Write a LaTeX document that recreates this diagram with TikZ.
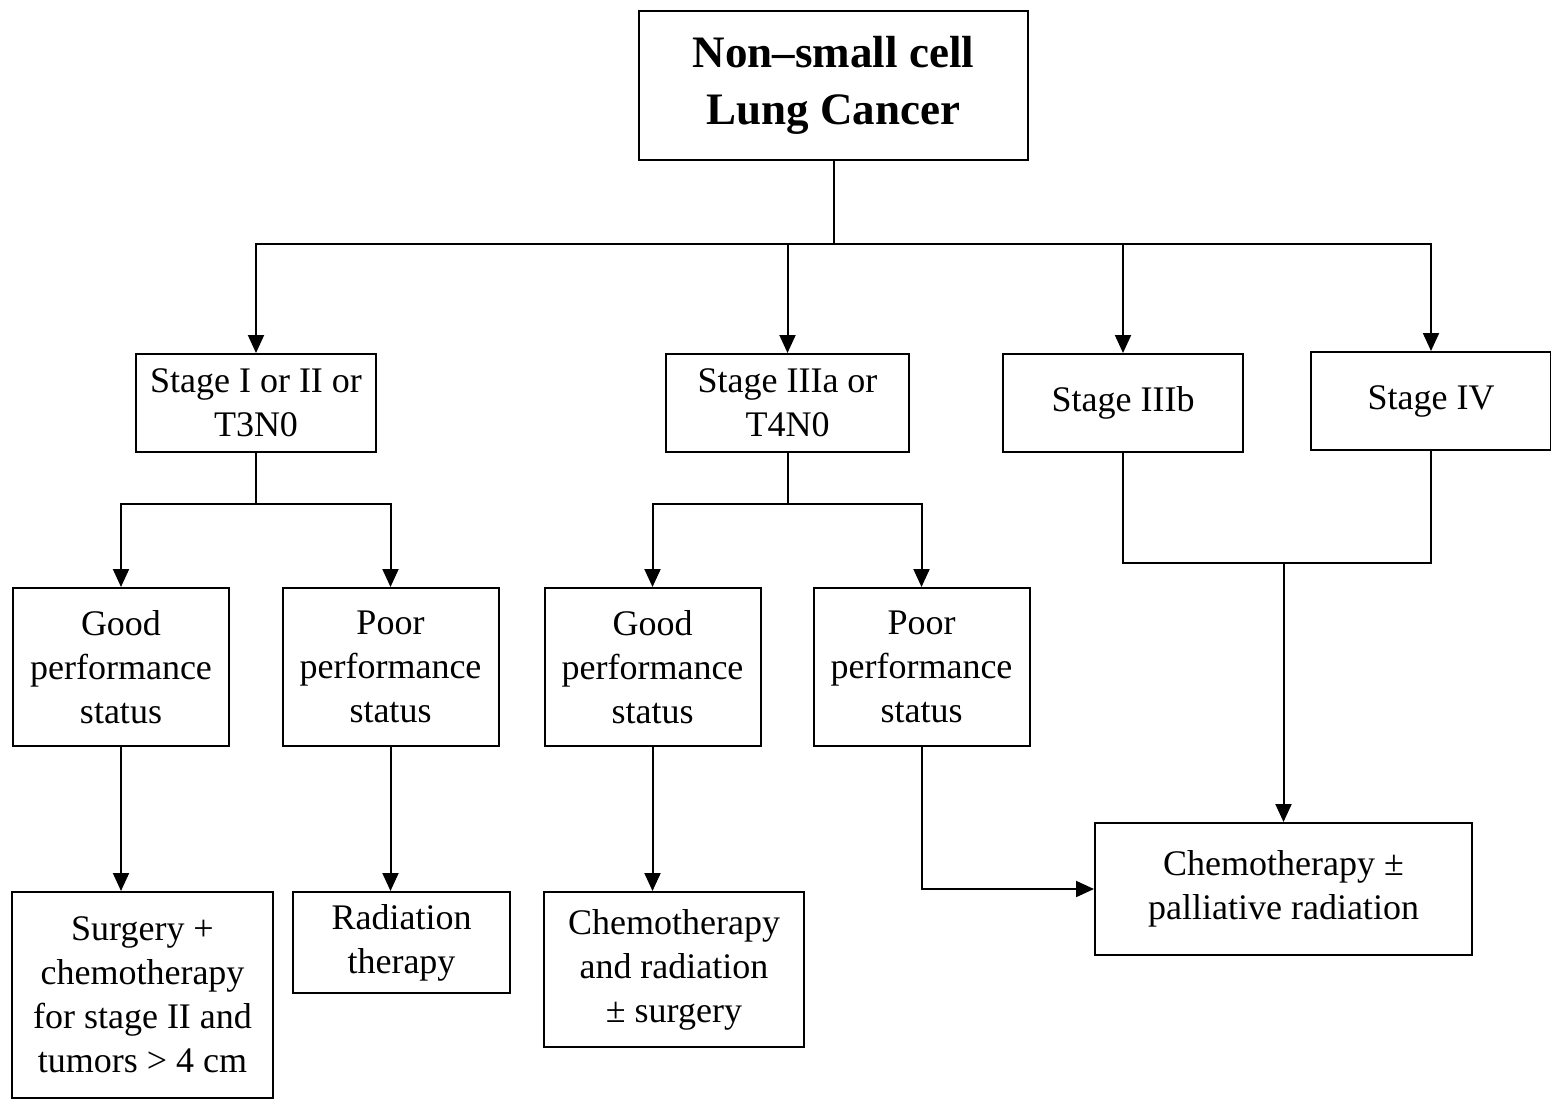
\documentclass[tikz,border=0pt]{standalone}
\usepackage{fontspec}
\setmainfont{Liberation Serif}
\usetikzlibrary{arrows.meta}

\begin{document}
\begin{tikzpicture}[x=0.5pt, y=-0.5pt,
    box/.style={draw, line width=1pt, inner sep=0pt, align=center, font=\fontsize{18}{22}\selectfont},
    arr/.style={-{Triangle[length=9pt, width=8pt]}, line width=1pt},
    ln/.style={line width=1pt}
]
    \useasboundingbox (0,0) rectangle (1551,1098);

    % Top
    \node[box, minimum width=194.5pt, minimum height=74.5pt, font=\bfseries\fontsize{22.5}{28.5}\selectfont] (nsclc) at (833.5, 85.5) {Non--small cell\\Lung Cancer};

    % Stages
    \node[box, minimum width=120pt, minimum height=49pt] (st1) at (256, 403) {Stage I or II or\\T3N0};
    \node[box, minimum width=121.5pt, minimum height=49pt] (st3a) at (787.5, 403) {Stage IIIa or\\T4N0};
    \node[box, minimum width=120pt, minimum height=49pt] (st3b) at (1123, 403) {Stage IIIb};
    \node[box, minimum width=120pt, minimum height=49pt] (st4) at (1431, 401) {Stage IV};

    % Performance status
    \node[box, minimum width=108pt, minimum height=79pt] (good1) at (121, 667) {Good\\performance\\status};
    \node[box, minimum width=108pt, minimum height=79pt] (poor1) at (390.5, 667) {Poor\\performance\\status};
    \node[box, minimum width=108pt, minimum height=79pt] (good2) at (652.5, 667) {Good\\performance\\status};
    \node[box, minimum width=108pt, minimum height=79pt] (poor2) at (921.5, 667) {Poor\\performance\\status};

    % Treatments
    \node[box, minimum width=130.5pt, minimum height=103pt] (surgery) at (142.5, 995) {Surgery +\\chemotherapy\\for stage II and\\tumors > 4 cm};
    \node[box, minimum width=108.5pt, minimum height=50.5pt] (radio) at (401.5, 942.5) {Radiation\\therapy};
    \node[box, minimum width=130pt, minimum height=77.5pt] (chemorad) at (674, 969.5) {Chemotherapy\\and radiation\\± surgery};
    \node[box, minimum width=188.5pt, minimum height=66pt] (chemo) at (1283.5, 889) {Chemotherapy ±\\palliative radiation};

    % Connections
    \coordinate (bus) at (833.5, 244);
    \draw[ln] (nsclc.south) -- (bus);
    \draw[arr] (bus) -| (st1.north);
    \draw[arr] (bus) -| (st3a.north);
    \draw[arr] (bus) -| (st3b.north);
    \draw[arr] (bus) -| (st4.north);

    \coordinate (split1) at (256, 504);
    \draw[ln] (st1.south) -- (split1);
    \draw[arr] (split1) -| (good1.north);
    \draw[arr] (split1) -| (poor1.north);

    \coordinate (split2) at (787.5, 504);
    \draw[ln] (st3a.south) -- (split2);
    \draw[arr] (split2) -| (good2.north);
    \draw[arr] (split2) -| (poor2.north);

    \coordinate (join) at (1283.5, 563);
    \draw[ln] (st3b.south) |- (join);
    \draw[ln] (st4.south) |- (join);
    \draw[arr] (join) -- (chemo.north);

    \draw[arr] (good1.south) -- (good1.south |- surgery.north);
    \draw[arr] (poor1.south) -- (poor1.south |- radio.north);
    \draw[arr] (good2.south) -- (good2.south |- chemorad.north);
    \draw[arr] (poor2.south) |- (chemo.west);
\end{tikzpicture}
\end{document}
